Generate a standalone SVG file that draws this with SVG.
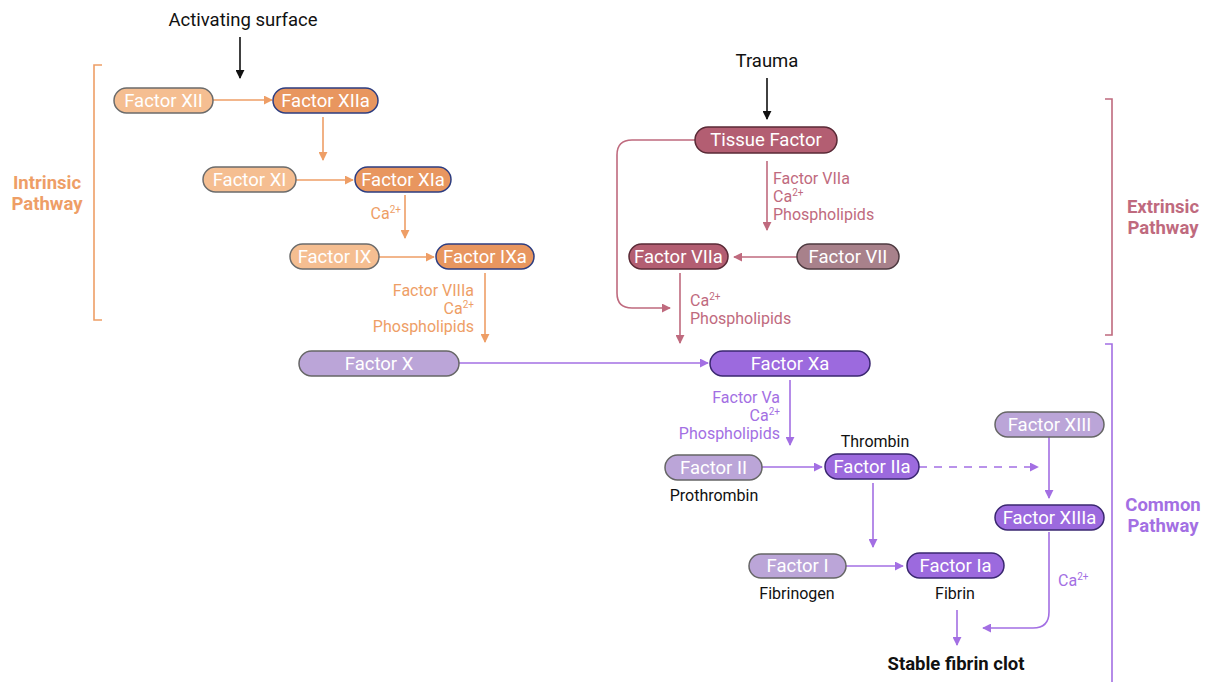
<svg xmlns="http://www.w3.org/2000/svg" width="1207" height="682" viewBox="0 0 1207 682">
<style>
text{font-family:Roboto,"Liberation Sans",sans-serif;}
.nt{fill:#fff;font-size:18.5px;text-anchor:middle;dominant-baseline:central;}
.lo{fill:#F5BE91;stroke:#6b6b6b;stroke-width:1.5;}
.do{fill:#E8965F;stroke:#2D3D80;stroke-width:1.5;}
.dp{fill:#B35E72;stroke:#5a2a36;stroke-width:1.5;}
.lp{fill:#A8818B;stroke:#4d3a40;stroke-width:1.5;}
.lv{fill:#BBA5D8;stroke:#666;stroke-width:1.5;}
.dv{fill:#9C6ADE;stroke:#3a2770;stroke-width:1.5;}
.ao{stroke:#EE9E66;stroke-width:1.6;fill:none;marker-end:url(#mo);}
.ap{stroke:#BF6A7E;stroke-width:1.6;fill:none;marker-end:url(#mp);}
.av{stroke:#A36FE3;stroke-width:1.6;fill:none;marker-end:url(#mv);}
.ak{stroke:#111;stroke-width:1.6;fill:none;marker-end:url(#mk);}
.to{fill:#EE9E66;font-size:16px;}
.tp{fill:#BF6A7E;font-size:16px;}
.tv{fill:#A36FE3;font-size:16px;}
.tk{fill:#111;font-size:16px;}
.big{fill:#111;font-size:18.5px;text-anchor:middle;}
.pw{font-weight:bold;font-size:18.5px;text-anchor:middle;}
.sup{font-size:10px;}
</style>
<defs>
<marker id="mo" viewBox="0 0 10 10" refX="9" refY="5" markerWidth="9" markerHeight="9" markerUnits="userSpaceOnUse" orient="auto"><path d="M0,0L10,5L0,10z" fill="#EE9E66"/></marker>
<marker id="mp" viewBox="0 0 10 10" refX="9" refY="5" markerWidth="9" markerHeight="9" markerUnits="userSpaceOnUse" orient="auto"><path d="M0,0L10,5L0,10z" fill="#BF6A7E"/></marker>
<marker id="mv" viewBox="0 0 10 10" refX="9" refY="5" markerWidth="9" markerHeight="9" markerUnits="userSpaceOnUse" orient="auto"><path d="M0,0L10,5L0,10z" fill="#A36FE3"/></marker>
<marker id="mk" viewBox="0 0 10 10" refX="9" refY="5" markerWidth="9" markerHeight="9" markerUnits="userSpaceOnUse" orient="auto"><path d="M0,0L10,5L0,10z" fill="#111"/></marker>
</defs>

<g id="brackets" fill="none" stroke-width="1.6">
<path d="M102,65H94V320H102" stroke="#EE9E66"/>
<path d="M1105,99H1112V335H1105" stroke="#BF6A7E"/>
<path d="M1105,344H1112V682" stroke="#A36FE3"/>
</g>

<g id="labels">
<text x="243" y="26" class="big">Activating surface</text>
<text x="767" y="67" class="big">Trauma</text>
<text x="47" y="188.5" fill="#EE9E66" class="pw">Intrinsic</text>
<text x="47" y="209.5" fill="#EE9E66" class="pw">Pathway</text>
<text x="1163" y="213" fill="#BF6A7E" class="pw">Extrinsic</text>
<text x="1163" y="234" fill="#BF6A7E" class="pw">Pathway</text>
<text x="1163" y="511" fill="#A36FE3" class="pw">Common</text>
<text x="1163" y="532" fill="#A36FE3" class="pw">Pathway</text>

<text x="401" y="219" class="to" text-anchor="end">Ca<tspan class="sup" dy="-6">2+</tspan></text>
<text x="474" y="296" class="to" text-anchor="end">Factor VIIIa</text>
<text x="474" y="314" class="to" text-anchor="end">Ca<tspan class="sup" dy="-6">2+</tspan></text>
<text x="474" y="332" class="to" text-anchor="end">Phospholipids</text>

<text x="773" y="184" class="tp">Factor VIIa</text>
<text x="773" y="202" class="tp">Ca<tspan class="sup" dy="-6">2+</tspan></text>
<text x="773" y="220" class="tp">Phospholipids</text>
<text x="690" y="306" class="tp">Ca<tspan class="sup" dy="-6">2+</tspan></text>
<text x="690" y="324" class="tp">Phospholipids</text>

<text x="780" y="403" class="tv" text-anchor="end">Factor Va</text>
<text x="780" y="421" class="tv" text-anchor="end">Ca<tspan class="sup" dy="-6">2+</tspan></text>
<text x="780" y="439" class="tv" text-anchor="end">Phospholipids</text>
<text x="1058" y="586" class="tv">Ca<tspan class="sup" dy="-6">2+</tspan></text>

<text x="875" y="447" class="tk" text-anchor="middle">Thrombin</text>
<text x="714" y="501" class="tk" text-anchor="middle">Prothrombin</text>
<text x="797" y="599" class="tk" text-anchor="middle">Fibrinogen</text>
<text x="955" y="599" class="tk" text-anchor="middle">Fibrin</text>
<text x="956" y="670" class="big" font-weight="bold">Stable fibrin clot</text>
</g>

<g id="connectors">
<path class="ak" d="M240,37V78"/>
<path class="ak" d="M767,78V119"/>
<path class="ao" d="M213,100H272"/>
<path class="ao" d="M323,117V160"/>
<path class="ao" d="M296,180H353"/>
<path class="ao" d="M405,195V238"/>
<path class="ao" d="M379,257H434"/>
<path class="ao" d="M485,273V342"/>
<path class="ap" d="M767,161V230"/>
<path class="ap" d="M797,257H734"/>
<path class="ap" d="M695,140H632Q617,140 617,155V293Q617,308 632,308H670"/>
<path class="ap" d="M680,273V343"/>
<path class="av" d="M459,363H708"/>
<path class="av" d="M790,380V445"/>
<path class="av" d="M762,467H822"/>
<path class="av" d="M919,467H1038" stroke-dasharray="8,7"/>
<path class="av" d="M1049,437V498"/>
<path class="av" d="M873,483V547"/>
<path class="av" d="M846,566H903"/>
<path class="av" d="M957,610V645"/>
<path class="av" d="M1049,532V612Q1049,628 1033,628H983"/>
</g>

<g id="factor-xii"><rect class="lo" x="114" y="88" width="99" height="25" rx="12.5"/><text class="nt" x="163.5" y="100.5">Factor XII</text></g>
<g id="factor-xiia"><rect class="do" x="273" y="88" width="105" height="25" rx="12.5"/><text class="nt" x="325.5" y="100.5">Factor XIIa</text></g>
<g id="factor-xi"><rect class="lo" x="203" y="167" width="93" height="25" rx="12.5"/><text class="nt" x="249.5" y="179.5">Factor XI</text></g>
<g id="factor-xia"><rect class="do" x="355" y="167" width="96" height="25" rx="12.5"/><text class="nt" x="403" y="179.5">Factor XIa</text></g>
<g id="factor-ix"><rect class="lo" x="290" y="244" width="89" height="25" rx="12.5"/><text class="nt" x="334.5" y="256.5">Factor IX</text></g>
<g id="factor-ixa"><rect class="do" x="436" y="244" width="98" height="25" rx="12.5"/><text class="nt" x="485" y="256.5">Factor IXa</text></g>
<g id="tissue-factor"><rect class="dp" x="695" y="127" width="142" height="26" rx="13"/><text class="nt" x="766" y="140">Tissue Factor</text></g>
<g id="factor-viia"><rect class="dp" x="629" y="244" width="99" height="25" rx="12.5"/><text class="nt" x="678.5" y="256.5">Factor VIIa</text></g>
<g id="factor-vii"><rect class="lp" x="797" y="244" width="102" height="25" rx="12.5"/><text class="nt" x="848" y="256.5">Factor VII</text></g>
<g id="factor-x"><rect class="lv" x="299" y="351" width="160" height="25" rx="12.5"/><text class="nt" x="379" y="363.5">Factor X</text></g>
<g id="factor-xa"><rect class="dv" x="710" y="351" width="160" height="25" rx="12.5"/><text class="nt" x="790" y="363.5">Factor Xa</text></g>
<g id="factor-ii"><rect class="lv" x="665" y="455" width="97" height="25" rx="12.5"/><text class="nt" x="713.5" y="467.5">Factor II</text></g>
<g id="factor-iia"><rect class="dv" x="825" y="454" width="94" height="25" rx="12.5"/><text class="nt" x="872" y="466.5">Factor IIa</text></g>
<g id="factor-xiii"><rect class="lv" x="995" y="412" width="109" height="25" rx="12.5"/><text class="nt" x="1049.5" y="424.5">Factor XIII</text></g>
<g id="factor-xiiia"><rect class="dv" x="995" y="505" width="109" height="25" rx="12.5"/><text class="nt" x="1049.5" y="517.5">Factor XIIIa</text></g>
<g id="factor-i"><rect class="lv" x="749" y="554" width="97" height="24" rx="12"/><text class="nt" x="797.5" y="566">Factor I</text></g>
<g id="factor-ia"><rect class="dv" x="907" y="553" width="97" height="25" rx="12.5"/><text class="nt" x="955.5" y="565.5">Factor Ia</text></g>
</svg>
